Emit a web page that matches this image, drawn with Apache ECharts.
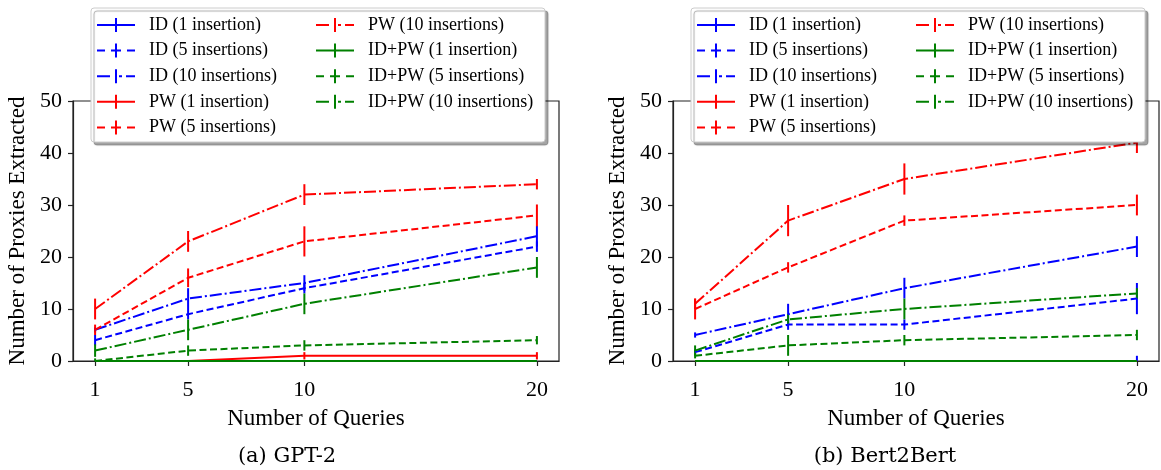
<!DOCTYPE html>
<html>
<head>
<meta charset="utf-8">
<script src="https://cdn.jsdelivr.net/npm/echarts@6/dist/echarts.min.js"></script>
<style>
	html, body { margin: 0; padding: 0; background: #fff; }
	#chart { width: 1161px; height: 470px; }
</style>
</head>
<body>
<div id="chart"></div>
<script>
var queries = [1, 5, 10, 20];
var names = ['ID (1 insertion)', 'ID (5 insertions)', 'ID (10 insertions)',
	'PW (1 insertion)', 'PW (5 insertions)', 'PW (10 insertions)',
	'ID+PW (1 insertion)', 'ID+PW (5 insertions)', 'ID+PW (10 insertions)'];

// (a) GPT-2 : means and error half-widths
var gptId1 = [0, 0, 0, 0];        var gptId1Err = [0, 0, 0, 0];
var gptId5 = [4, 9, 14, 22];      var gptId5Err = [1, 1, 1, 1];
var gptId10 = [6, 12, 15, 24];    var gptId10Err = [0.5, 2, 1.5, 2];
var gptPw1 = [0, 0, 1, 1];        var gptPw1Err = [0, 0, 0.7, 0.7];
var gptPw5 = [6, 16, 23, 28];     var gptPw5Err = [1, 1.8, 2.9, 2.1];
var gptPw10 = [10, 23, 32, 34];   var gptPw10Err = [2, 2, 2, 1];
var gptIdPw1 = [0, 0, 0, 0];      var gptIdPw1Err = [0, 0, 0, 0];
var gptIdPw5 = [0, 2, 3, 4];      var gptIdPw5Err = [0.5, 1, 1, 0.8];
var gptIdPw10 = [2, 6, 11, 18];   var gptIdPw10Err = [1.2, 2, 2, 2];

// (b) Bert2Bert
var bertId1 = [0, 0, 0, 0];       var bertId1Err = [0, 0, 0, 1];
var bertId5 = [1.7, 7, 7, 12];    var bertId5Err = [0.5, 1, 1, 3];
var bertId10 = [5, 9, 14, 22];    var bertId10Err = [0.5, 2, 2, 2];
var bertPw1 = [0, 0, 0, 0];       var bertPw1Err = [0, 0, 0, 0];
var bertPw5 = [10, 18, 27, 30];   var bertPw5Err = [2, 1, 1, 2];
var bertPw10 = [11, 27, 35, 42];  var bertPw10Err = [1, 3, 3, 2];
var bertIdPw1 = [0, 0, 0, 0];     var bertIdPw1Err = [0, 0, 0, 0];
var bertIdPw5 = [1, 3, 4, 5];     var bertIdPw5Err = [0.5, 2, 1, 1];
var bertIdPw10 = [2, 8, 10, 13];  var bertIdPw10Err = [1, 1, 2, 1];

var captions = ['(a) GPT-2', '(b) Bert2Bert'];

var gptMeans = [gptId1, gptId5, gptId10, gptPw1, gptPw5, gptPw10, gptIdPw1, gptIdPw5, gptIdPw10];
var gptErrs = [gptId1Err, gptId5Err, gptId10Err, gptPw1Err, gptPw5Err, gptPw10Err, gptIdPw1Err, gptIdPw5Err, gptIdPw10Err];
var bertMeans = [bertId1, bertId5, bertId10, bertPw1, bertPw5, bertPw10, bertIdPw1, bertIdPw5, bertIdPw10];
var bertErrs = [bertId1Err, bertId5Err, bertId10Err, bertPw1Err, bertPw5Err, bertPw10Err, bertIdPw1Err, bertIdPw5Err, bertIdPw10Err];

var FONT = 'Liberation Serif';
var colors = ['#0000ff', '#0000ff', '#0000ff', '#ff0000', '#ff0000', '#ff0000', '#008000', '#008000', '#008000'];
var kinds = ['solid', 'dashed', 'dashdot', 'solid', 'dashed', 'dashdot', 'solid', 'dashed', 'dashdot'];
var dashes = { solid: 'solid', dashed: [7, 3.5], dashdot: [12, 3, 2, 3] };
var icons = {
	solid: 'path://M0,6h38v2h-38zM18,0h2v14h-2z',
	dashed: 'path://M0,6h8v2h-8zM14,6h10v2h-10zM30,6h8v2h-8zM18,0h2v14h-2z',
	dashdot: 'path://M0,6h13v2h-13zM18,0h2v14h-2zM22,6h3v2h-3zM29,6h9v2h-9z'
};

var chart = echarts.init(document.getElementById('chart'));

var gridLeft = [73, 673];
var series = [];
function addPanel(p, means, errs) {
	for (var i = 0; i < 9; i++) {
		(function (i) {
			var col = colors[i];
			series.push({
				name: names[i],
				type: 'line',
				xAxisIndex: p,
				yAxisIndex: p,
				symbol: 'none',
				lineStyle: { color: col, width: 2, type: dashes[kinds[i]] },
				itemStyle: { color: col },
				data: queries.map(function (q, j) { return [q, means[i][j]]; })
			});
			// vertical error bars
			series.push({
				name: names[i],
				type: 'custom',
				xAxisIndex: p,
				yAxisIndex: p,
				clip: true,
				itemStyle: { color: col },
				encode: { x: 0, y: [1, 2] },
				data: queries.map(function (q, j) { return [q, means[i][j] - errs[i][j], means[i][j] + errs[i][j]]; }),
				renderItem: function (params, api) {
					var a = api.coord([api.value(0), api.value(1)]);
					var b = api.coord([api.value(0), api.value(2)]);
					return {
						type: 'line',
						shape: { x1: a[0], y1: a[1], x2: b[0], y2: b[1] },
						style: { stroke: col, lineWidth: 2 }
					};
				}
			});
		})(i);
	}
}
addPanel(0, gptMeans, gptErrs);
addPanel(1, bertMeans, bertErrs);

var grids = [], xAxes = [], yAxes = [], legends = [], graphics = [];
for (var p = 0; p < 2; p++) {
	grids.push({ left: gridLeft[p], top: 101, width: 486, height: 260, show: true, borderColor: '#222', borderWidth: 1.2 });
	xAxes.push({
		type: 'value', gridIndex: p, min: 0.05, max: 20.95,
		name: 'Number of Queries', nameLocation: 'middle', nameGap: 46,
		nameTextStyle: { fontFamily: FONT, fontSize: 23, color: '#000' },
		axisLine: { show: true, lineStyle: { color: '#222', width: 1.2 } },
		axisTick: { show: true, customValues: queries, length: 5, lineStyle: { color: '#222', width: 1.2 } },
		axisLabel: { customValues: queries, fontFamily: FONT, fontSize: 22, color: '#000', margin: 18 },
		splitLine: { show: false }
	});
	yAxes.push({
		type: 'value', gridIndex: p, min: 0, max: 50, interval: 10,
		name: 'Number of Proxies Extracted', nameLocation: 'middle', nameGap: 44,
		nameTextStyle: { fontFamily: FONT, fontSize: 23, color: '#000' },
		axisLine: { show: true, lineStyle: { color: '#222', width: 1.2 } },
		axisTick: { show: true, length: 5, lineStyle: { color: '#222', width: 1.2 } },
		axisLabel: { fontFamily: FONT, fontSize: 22, color: '#000', margin: 11 },
		splitLine: { show: false }
	});
	var cols = [[0, 1, 2, 3, 4], [5, 6, 7, 8]];
	var colX = [97, 316];
	for (var c = 0; c < 2; c++) {
		legends.push({
			orient: 'vertical',
			left: colX[c] + p * 600,
			top: 16,
			padding: 0,
			itemWidth: 38,
			itemHeight: 14,
			itemGap: 7.6,
			selectedMode: false,
			z: 60,
			itemStyle: { borderWidth: 0 },
			textStyle: { fontFamily: FONT, fontSize: 18, color: '#000', lineHeight: 17, padding: [0, 0, 0, 9] },
			data: cols[c].map(function (k) { return { name: names[k], icon: icons[kinds[k]] }; })
		});
	}
	graphics.push({
		type: 'rect', z: 50,
		shape: { x: 91 + p * 600, y: 8, width: 454, height: 134, r: 3 },
		style: { fill: '#ffffff', stroke: '#cccccc', lineWidth: 1,
			shadowColor: 'rgba(0,0,0,0.35)', shadowOffsetX: 3, shadowOffsetY: 3, shadowBlur: 1 }
	});
}
graphics.push({ type: 'text', x: 287, y: 457, z: 10, style: { text: captions[0], fontFamily: 'DejaVu Serif', fontSize: 21, fill: '#000', align: 'center', verticalAlign: 'middle' } });
graphics.push({ type: 'text', x: 885, y: 457, z: 10, style: { text: captions[1], fontFamily: 'DejaVu Serif', fontSize: 21, fill: '#000', align: 'center', verticalAlign: 'middle' } });

var option = {
	animation: false,
	backgroundColor: '#fff',
	grid: grids,
	xAxis: xAxes,
	yAxis: yAxes,
	legend: legends,
	graphic: graphics,
	series: series
};
chart.setOption(option);
</script>
</body>
</html>
